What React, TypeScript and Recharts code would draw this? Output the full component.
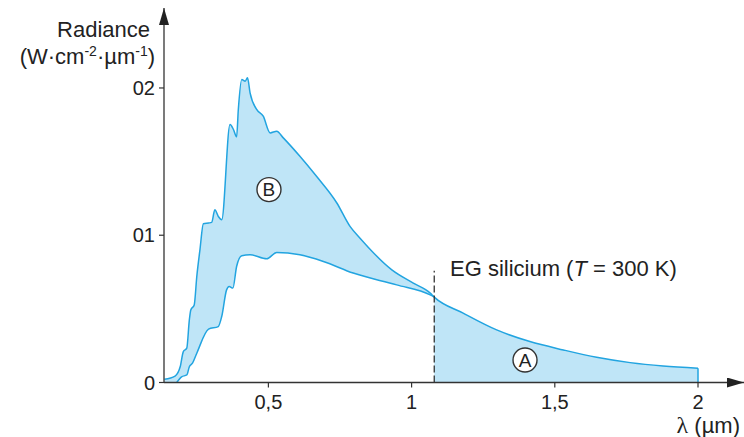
import React from "react";
import {
  ComposedChart,
  Area,
  XAxis,
  YAxis,
  ReferenceLine,
  ReferenceDot,
} from "recharts";

// Upper curve (outer envelope, B + A boundary), wavelength in µm
const wavelengthUpper = [
  0.137, 0.174, 0.192, 0.203, 0.215, 0.224, 0.229, 0.241, 0.25, 0.261, 0.273,
  0.291, 0.302, 0.313, 0.325, 0.337, 0.366, 0.378, 0.389, 0.395, 0.407, 0.419,
  0.427, 0.436, 0.459, 0.482, 0.506, 0.529, 0.552, 0.61, 0.668, 0.739, 0.785,
  0.82, 0.931, 1.006, 1.065, 1.079, 1.18, 1.297, 1.413, 1.53, 1.646, 1.763,
  1.878, 2.0,
];
const radianceUpper = [
  0.0022, 0.0044, 0.0107, 0.021, 0.0233, 0.0425, 0.0493, 0.0527, 0.072, 0.0901,
  0.1078, 0.1083, 0.1087, 0.1173, 0.1128, 0.1105, 0.1752, 0.1718, 0.1668,
  0.1854, 0.2058, 0.2046, 0.2069, 0.1967, 0.1854, 0.1808, 0.1695, 0.1706,
  0.1661, 0.1536, 0.14, 0.1219, 0.106, 0.098, 0.0765, 0.0675, 0.0607, 0.058,
  0.0471, 0.0357, 0.0278, 0.0221, 0.0171, 0.0135, 0.0112, 0.0097,
];

// Lower curve (inner boundary of region B)
const wavelengthLower = [
  0.18, 0.197, 0.215, 0.224, 0.235, 0.25, 0.291, 0.325, 0.337, 0.354, 0.363,
  0.376, 0.389, 0.407, 0.436, 0.494, 0.529, 0.61, 0.692, 0.796, 0.948, 1.065,
  1.079,
];
const radianceLower = [
  0, 0.0039, 0.0051, 0.0107, 0.0131, 0.0199, 0.0362, 0.038, 0.0448, 0.0629,
  0.0652, 0.0641, 0.0788, 0.0861, 0.0867, 0.084, 0.0883, 0.0867, 0.0822,
  0.0743, 0.0663, 0.0595, 0.058,
];

const xTicks = [0.5, 1, 1.5, 2];
const xTickLabels = ["0,5", "1", "1,5", "2"];
const yTicks = [0, 0.1, 0.2];
const yTickLabels = ["0", "01", "02"];

const gapWavelength = 1.079;
const gapLineTop = 0.0759;

const upperData = wavelengthUpper.map((x, i) => ({ x, y: radianceUpper[i] }));
const lowerData = wavelengthLower.map((x, i) => ({ x, y: radianceLower[i] }));

const BLUE = "#22a4e0";
const FILL = "#bfe5f7";
const AXIS = "#333";
const FONT = '"Liberation Sans", Arial, sans-serif';

export default function App() {
  return (
    <div
      style={{
        position: "absolute",
        left: 0,
        top: 0,
        width: 744,
        height: 437,
        background: "#fff",
        fontFamily: FONT,
      }}
    >
      <svg width={0} height={0} style={{ position: "absolute" }}>
        <defs>
          <marker
            id="arrowHead"
            markerWidth={17}
            markerHeight={10}
            refX={17}
            refY={5}
            orient="auto-start-reverse"
            markerUnits="userSpaceOnUse"
          >
            <path d="M0,0 L17,5 L0,10 Z" fill="#222" />
          </marker>
        </defs>
      </svg>
      <ComposedChart
        width={744}
        height={437}
        margin={{ top: 8, right: 0, bottom: 24.5, left: 104 }}
      >
        <Area
          data={upperData}
          dataKey="y"
          type="monotone"
          stroke={BLUE}
          strokeWidth={1.5}
          fill={FILL}
          fillOpacity={1}
          dot={false}
          activeDot={false}
          isAnimationActive={false}
        />
        <Area
          data={lowerData}
          dataKey="y"
          type="monotone"
          stroke={BLUE}
          strokeWidth={1.5}
          fill="#ffffff"
          fillOpacity={1}
          dot={false}
          activeDot={false}
          isAnimationActive={false}
        />
        <ReferenceLine
          segment={[
            { x: 2, y: 0 },
            { x: 2, y: radianceUpper[radianceUpper.length - 1] },
          ]}
          stroke={BLUE}
          strokeWidth={1.5}
        />
        <ReferenceLine
          segment={[
            { x: gapWavelength, y: 0 },
            { x: gapWavelength, y: gapLineTop },
          ]}
          stroke="#222"
          strokeWidth={1.2}
          strokeDasharray="7 3"
        />
        <ReferenceDot
          x={0.502}
          y={0.131}
          r={12}
          fill="#fff"
          stroke="#333"
          strokeWidth={1.4}
          label={{ value: "B", position: "center", fontSize: 19, fill: "#222", fontFamily: FONT }}
        />
        <ReferenceDot
          x={1.396}
          y={0.0153}
          r={12}
          fill="#fff"
          stroke="#333"
          strokeWidth={1.4}
          label={{ value: "A", position: "center", fontSize: 19, fill: "#222", fontFamily: FONT }}
        />
        <XAxis
          type="number"
          dataKey="x"
          domain={[0.1355, 2.1606]}
          allowDataOverflow
          ticks={xTicks}
          tickFormatter={(v: number) => xTickLabels[xTicks.indexOf(v)] ?? String(v)}
          axisLine={{ stroke: AXIS, strokeWidth: 1.3, markerEnd: "url(#arrowHead)" }}
          tickLine={{ stroke: AXIS, strokeWidth: 1.2 }}
          tickSize={5}
          tickMargin={7}
          tick={{ fill: "#222", fontSize: 20, fontFamily: FONT }}
          height={30}
        />
        <YAxis
          type="number"
          domain={[0, 0.2543]}
          allowDataOverflow
          ticks={yTicks}
          tickFormatter={(v: number) => yTickLabels[yTicks.indexOf(v)] ?? String(v)}
          axisLine={{ stroke: AXIS, strokeWidth: 1.3, markerStart: "url(#arrowHead)" }}
          tickLine={{ stroke: AXIS, strokeWidth: 1.2 }}
          tickSize={5}
          tickMargin={4}
          tick={{ fill: "#222", fontSize: 20, fontFamily: FONT }}
          width={60}
        />
      </ComposedChart>
      <svg
        width={744}
        height={437}
        style={{ position: "absolute", left: 0, top: 0, pointerEvents: "none" }}
        fontFamily={FONT}
        fill="#222"
      >
        <text x={150} y={37} fontSize={22} textAnchor="end">
          Radiance
        </text>
        <text x={155} y={64} fontSize={22} textAnchor="end">
          (W·cm
          <tspan dy={-8} fontSize={14}>-2</tspan>
          <tspan dy={8}>·µm</tspan>
          <tspan dy={-8} fontSize={14}>-1</tspan>
          <tspan dy={8}>)</tspan>
        </text>
        <text x={450} y={276} fontSize={22}>
          EG silicium (<tspan fontStyle="italic">T</tspan> = 300 K)
        </text>
        <text x={740} y={433} fontSize={22} textAnchor="end">
          <tspan fontFamily='"Liberation Serif", serif' fontSize={24}>λ</tspan> (µm)
        </text>
      </svg>
    </div>
  );
}
